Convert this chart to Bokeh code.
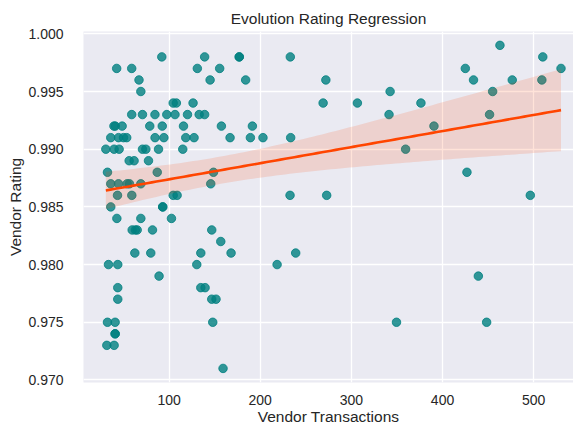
import numpy as np
from bokeh.plotting import figure
from bokeh.models import Range1d, FixedTicker, PrintfTickFormatter, ColumnDataSource
from bokeh.embed import file_html
from bokeh.resources import INLINE

# Vendor transactions (x) and vendor rating (y)
transactions = [
    463,
    92, 139, 177, 177, 233, 510,
    42.5, 59, 131, 155.5, 425, 530,
    67, 145, 184, 272, 434, 476.5, 509,
    69, 342.5, 455,
    104.5, 108, 126.3, 269, 306.6, 376.3,
    59, 70.8, 84.5, 97.5, 106.5, 120.2, 133, 139, 341.3, 451.6,
    39.5, 41, 48.5, 78.8, 92.5, 115.8, 157.4, 191.4, 390.6,
    36, 44.5, 50, 53.5, 84.6, 94.3, 118.3, 127.4, 166.9, 189.2, 203, 233.4,
    30.6, 39.7, 45.2, 70.8, 74.5, 88.4, 115, 359.5,
    56.2, 61.6, 77.4,
    32.4, 87, 148.7, 426.8,
    36, 44.5, 54, 56.5, 69, 145.7,
    43.4, 59.1, 104.5, 108.8, 232.7, 272.9, 496.3,
    36, 93, 93,
    42.7, 69, 102.6,
    59.5, 63, 65, 81.8, 146.8,
    156.7,
    62.4, 79.9, 134.8, 168, 238.9,
    33.5, 43.7, 130.4, 218.5,
    89, 439.3,
    43.7, 134.8, 139.5,
    43.7, 146.8, 151.5,
    32.4, 40.8, 147.9, 349.5, 448.4,
    40.8, 40.8,
    31.7, 39.7,
    159.2,
]
ratings = (
    [0.999] * 1 + [0.998] * 6 + [0.997] * 6 + [0.996] * 7 + [0.995] * 3
    + [0.994] * 6 + [0.993] * 10 + [0.992] * 9 + [0.991] * 12 + [0.990] * 8
    + [0.989] * 3 + [0.988] * 4 + [0.987] * 6 + [0.986] * 7 + [0.985] * 3
    + [0.984] * 3 + [0.983] * 5 + [0.982] * 1 + [0.981] * 5 + [0.980] * 4
    + [0.979] * 2 + [0.978] * 3 + [0.977] * 3 + [0.975] * 5 + [0.974] * 2
    + [0.973] * 2 + [0.971] * 1
)

x_ticks = [100, 200, 300, 400, 500]
y_ticks = [0.970, 0.975, 0.980, 0.985, 0.990, 0.995, 1.000]

x = np.array(transactions, dtype=float)
y = np.array(ratings, dtype=float)
n = min(len(x), len(y))
x, y = x[:n], y[:n]

# linear fit + 95% confidence band
slope, intercept = np.polyfit(x, y, 1)
resid = y - (slope * x + intercept)
s = np.sqrt(np.sum(resid ** 2) / (n - 2))
xbar = x.mean()
sxx = np.sum((x - xbar) ** 2)
grid = np.linspace(x.min(), x.max(), 100)
yhat = slope * grid + intercept
se = s * np.sqrt(1.0 / n + (grid - xbar) ** 2 / sxx)
tval = 1.975
lower = yhat - tval * se
upper = yhat + tval * se

FONT = "Liberation Sans"
TXT = "#262626"

p = figure(width=573, height=427, output_backend="svg", toolbar_location=None,
           x_range=Range1d(6.1, 543.7), y_range=Range1d(0.96978, 1.0002),
           min_border_left=83, min_border_right=0, min_border_top=31,
           min_border_bottom=43, title="Evolution Rating Regression")

p.background_fill_color = "#eaeaf2"
p.border_fill_color = "white"
p.outline_line_color = None

p.title.text_font = FONT
p.title.text_font_size = "15.5px"
p.title.text_font_style = "normal"
p.title.text_color = TXT
p.title.align = "center"
p.title.offset = 5

for ax in (p.xaxis[0], p.yaxis[0]):
    ax.axis_line_color = None
    ax.major_tick_line_color = None
    ax.minor_tick_line_color = None
    ax.major_label_text_font = FONT
    ax.major_label_text_font_size = "14px"
    ax.major_label_text_color = TXT
    ax.axis_label_text_font = FONT
    ax.axis_label_text_font_size = "15.5px"
    ax.axis_label_text_font_style = "normal"
    ax.axis_label_text_color = TXT

p.xaxis.ticker = FixedTicker(ticks=x_ticks)
p.yaxis.ticker = FixedTicker(ticks=y_ticks)
p.yaxis.formatter = PrintfTickFormatter(format="%.3f")
p.xaxis.axis_label = "Vendor Transactions"
p.yaxis.axis_label = "Vendor Rating"
p.xaxis.major_label_standoff = 6
p.yaxis.major_label_standoff = 14
p.xaxis.axis_label_standoff = 0
p.yaxis.axis_label_standoff = 1

p.xgrid.grid_line_color = "white"
p.ygrid.grid_line_color = "white"
p.xgrid.grid_line_width = 1.3
p.ygrid.grid_line_width = 1.3

src = ColumnDataSource(dict(x=x, y=y))
p.scatter("x", "y", source=src, size=8.5, fill_color="teal", line_color="teal",
          fill_alpha=0.8, line_alpha=0.8)

p.varea(x=grid, y1=lower, y2=upper, fill_color="orangered", fill_alpha=0.15)
p.line(x=grid, y=yhat, line_color="orangered", line_width=2.6)

open("out.html", "w").write(file_html(p, INLINE))
